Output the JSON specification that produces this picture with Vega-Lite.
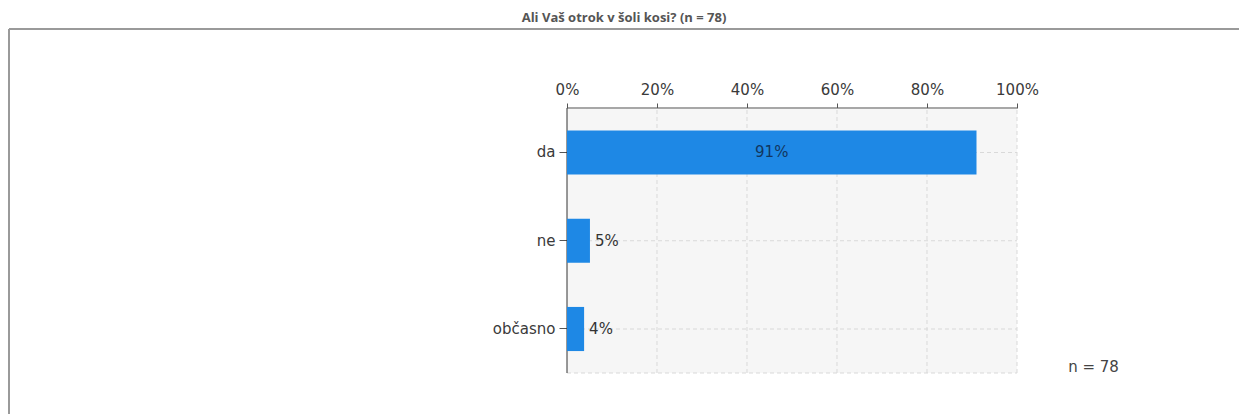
{
  "$schema": "https://vega.github.io/schema/vega-lite/v6.json",
  "width": 1230,
  "height": 385,
  "autosize": {"type": "none"},
  "padding": {"left": 9, "top": 29, "right": 0, "bottom": 0},
  "background": "white",
  "config": {"view": {"stroke": null}, "font": "DejaVu Sans"},
  "title": {"text": "Ali Vaš otrok v šoli kosi? (n = 78)", "font": "Open Sans", "fontSize": 13, "fontWeight": "bold", "color": "#555555", "anchor": "middle", "offset": 3},
  "datasets": {
    "odgovori": [
      {"odgovor": "da", "delez": 91.0, "oznaka": "91%"},
      {"odgovor": "ne", "delez": 5.1, "oznaka": "5%"},
      {"odgovor": "občasno", "delez": 3.8, "oznaka": "4%"}
    ],
    "mreza": [{"vrednost": 20}, {"vrednost": 40}, {"vrednost": 60}, {"vrednost": 80}, {"vrednost": 100}]
  },
  "layer": [
    {
      "layer": [
        {
          "data": {"values": [{}]},
          "mark": {"type": "rect", "fill": "#f6f6f6"},
          "encoding": {
            "x": {"datum": 0, "type": "quantitative", "scale": {"domain": [-124, 149.3333], "nice": false, "zero": false}, "axis": null, "title": null},
            "x2": {"datum": 100},
            "y": {"datum": 0, "type": "quantitative", "scale": {"domain": [-0.1547, 1.2981], "nice": false, "zero": false}, "axis": null, "title": null},
            "y2": {"datum": 1}
          }
        },
        {
          "data": {"name": "mreza"},
          "mark": {"type": "rule", "stroke": "#d9d9d9", "strokeDash": [4, 3], "strokeWidth": 1},
          "encoding": {
            "x": {"field": "vrednost", "type": "quantitative", "title": null},
            "y": {"datum": 0, "type": "quantitative"},
            "y2": {"datum": 1}
          }
        },
        {
          "data": {"values": [{}]},
          "mark": {"type": "rule", "stroke": "#d9d9d9", "strokeDash": [4, 3], "strokeWidth": 1},
          "encoding": {
            "x": {"datum": 0, "type": "quantitative"},
            "x2": {"datum": 100},
            "y": {"datum": 0, "type": "quantitative"}
          }
        },
        {
          "data": {"values": [{}]},
          "mark": {"type": "rule", "stroke": "#555555", "strokeWidth": 1},
          "encoding": {
            "x": {"datum": 0, "type": "quantitative"},
            "x2": {"datum": 100},
            "y": {"datum": 1, "type": "quantitative"}
          }
        },
        {
          "data": {"values": [{}]},
          "mark": {"type": "rule", "stroke": "#333333", "strokeWidth": 1},
          "encoding": {
            "x": {"datum": 0, "type": "quantitative"},
            "y": {"datum": 0, "type": "quantitative"},
            "y2": {"datum": 1}
          }
        },
        {
          "data": {"values": [{}]},
          "mark": {"type": "rule", "stroke": "#9a9a9a", "strokeWidth": 2},
          "encoding": {
            "x": {"datum": -124, "type": "quantitative"},
            "x2": {"datum": 149.3333},
            "y": {"datum": 1.2981, "type": "quantitative"}
          }
        },
        {
          "data": {"values": [{}]},
          "mark": {"type": "rule", "stroke": "#9a9a9a", "strokeWidth": 2},
          "encoding": {
            "x": {"datum": -124, "type": "quantitative"},
            "y": {"datum": -0.1547, "type": "quantitative"},
            "y2": {"datum": 1.2981}
          }
        },
        {
          "data": {"values": [{}]},
          "mark": {"type": "text", "text": "n = 78", "fontSize": 15, "color": "#444444", "align": "center", "baseline": "middle"},
          "encoding": {
            "x": {"datum": 117, "type": "quantitative"},
            "y": {"datum": 0.0226, "type": "quantitative"}
          }
        }
      ]
    },
    {
      "data": {"name": "odgovori"},
      "layer": [
        {
          "mark": {"type": "rule", "stroke": "#d9d9d9", "strokeDash": [4, 3], "strokeWidth": 1},
          "encoding": {
            "x": {"datum": 0, "type": "quantitative", "scale": {"domain": [-124, 149.3333], "nice": false, "zero": false}, "title": null},
            "x2": {"datum": 100},
            "y": {"field": "odgovor", "type": "nominal", "sort": null, "scale": {"type": "band", "domain": ["da", "ne", "občasno"], "paddingInner": 0.5, "paddingOuter": 0.9313, "align": 0.6171}, "title": null}
          }
        },
        {
          "mark": {"type": "bar", "color": "#1e88e5"},
          "encoding": {
            "x": {"field": "delez", "type": "quantitative", "title": null,
              "axis": {"orient": "top", "offset": -79, "values": [0, 20, 40, 60, 80, 100], "labelExpr": "datum.value + '%'", "domain": false, "grid": false, "tickSize": 5, "tickColor": "#555555", "labelPadding": 6, "labelFontSize": 15, "labelColor": "#3a3a3a", "labelFont": "DejaVu Sans", "title": null}},
            "y": {"field": "odgovor", "type": "nominal", "sort": null, "title": null,
              "axis": {"orient": "left", "offset": -558, "domain": false, "grid": false, "tickSize": 8, "tickColor": "#555555", "labelPadding": 4, "labelFontSize": 15, "labelColor": "#3a3a3a", "labelFont": "DejaVu Sans", "title": null}}
          }
        },
        {
          "transform": [{"filter": "datum.delez < 50"}],
          "mark": {"type": "text", "align": "left", "baseline": "middle", "dx": 5, "fontSize": 15, "color": "#333333"},
          "encoding": {
            "x": {"field": "delez", "type": "quantitative"},
            "y": {"field": "odgovor", "type": "nominal", "sort": null},
            "text": {"field": "oznaka"}
          }
        }
      ]
    },
    {
      "data": {"name": "odgovori"},
      "transform": [{"filter": "datum.delez >= 50"}],
      "mark": {"type": "text", "align": "center", "baseline": "middle", "fontSize": 15, "color": "#12365e"},
      "encoding": {
        "x": {"field": "delez", "type": "quantitative", "scale": {"domain": [-248, 298.6667], "nice": false, "zero": false}, "axis": null},
        "y": {"field": "odgovor", "type": "nominal", "sort": null, "scale": {"type": "band", "domain": ["da", "ne", "občasno"], "paddingInner": 0.5, "paddingOuter": 0.9313, "align": 0.6171}, "axis": null},
        "text": {"field": "oznaka"}
      }
    }
  ],
  "resolve": {"scale": {"x": "independent", "y": "independent"}}
}
